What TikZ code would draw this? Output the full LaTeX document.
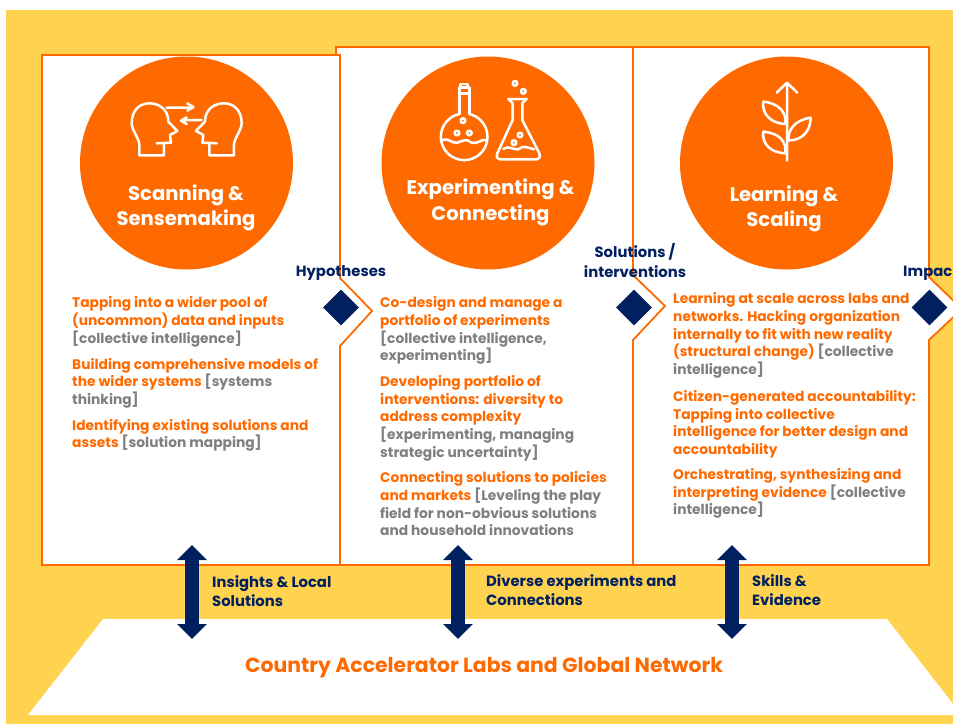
\documentclass[tikz,border=0pt]{standalone}
\usepackage{fontspec}
\setmainfont{Poppins}
\usetikzlibrary{shapes.geometric, positioning, arrows.meta}
\definecolor{bgyellow}{HTML}{FFD350}
\definecolor{undporange}{HTML}{FF6A00}
\definecolor{undpnavy}{HTML}{002060}
\definecolor{notegray}{HTML}{7F7F7F}
\newcommand{\nt}[1]{\textcolor{notegray}{#1}}
\tikzstyle{panel} = [draw=undporange, line width=1.8pt, fill=white, miter limit=3]
\tikzstyle{hub} = [circle, fill=undporange, minimum size=213pt, inner sep=0pt]
\tikzstyle{hubtitle} = [text=white, align=center, inner sep=0pt,
        font=\bfseries\fontsize{19.6}{25.5}\selectfont]
\tikzstyle{para} = [text=undporange, align=left, inner sep=0pt, anchor=north west,
        font=\bfseries\fontsize{13.8}{17.6}\selectfont,
        execute at begin node=\strut, execute at end node=\strut]
\tikzstyle{flow} = [text=undpnavy, align=left, inner sep=0pt,
        font=\bfseries\fontsize{14.8}{19.3}\selectfont]
\tikzstyle{gate} = [diamond, fill=undpnavy, minimum size=36pt, inner sep=0pt]
\tikzset{
    link/.style={draw=undpnavy, line width=14pt,
        {Triangle[width=29pt,length=15pt]}-{Triangle[width=29pt,length=15pt]}},
    icon/.style={draw=white, line width=2.5pt, line join=round, line cap=round}
}

\begin{document}
\begin{tikzpicture}[x=1pt,y=-1pt]
    \useasboundingbox (0,0) rectangle (953,724);
    \clip (0,0) rectangle (953,724);
    \fill[bgyellow] (6,10) rectangle (953,724);

    % three panels, drawn from right to left so each tip lies on the next
    \path[panel] (633,47) -- (929,47) -- (929,277) -- (962,309) -- (929,340) -- (929,565) -- (633,565);
    \path[panel] (336,55) -- (336,47) -- (633,47) -- (633,275) -- (665,306) -- (633,340) -- (633,565) -- (340,565);
    \path[panel] (42,55) -- (340,55) -- (340,278) -- (372,311) -- (340,346) -- (340,565) -- (42,565) -- cycle;

    \fill[white] (103,619) -- (887,619) -- (953,704) -- (953,715) -- (28,715) -- cycle;
    \node [text=undporange, inner sep=0pt, font=\bfseries\fontsize{20.4}{24}\selectfont] (labs) at (484,668)
        {Country Accelerator Labs and Global Network};

    \node [hub] (scan) at (186.5,163) {};
    \node [hub] (expt) at (488,163) {};
    \node [hub] (scale) at (786.5,163) {};
    \node [hubtitle] (scanT) at (186,208) {Scanning \&\\Sensemaking};
    \node [hubtitle] (exptT) at (490.5,202.5) {Experimenting \&\\Connecting};
    \node [hubtitle] (scaleT) at (784,209) {Learning \&\\Scaling};

    % heads
    \begin{scope}[shift={(100,80)}, x=.3333pt, y=-.3333pt]
        \draw[icon] (170,190) -- (213,188) -- (210,165) -- (232,153) -- (205,125)
            .. controls (205,90) and (180,70) .. (148,70)
            .. controls (115,70) and (95,95) .. (95,130)
            .. controls (95,150) and (118,175) .. (118,195) -- (118,226) -- (192,226) -- (192,190);
        \draw[icon] (350,190) -- (307,188) -- (310,165) -- (288,153) -- (315,125)
            .. controls (315,90) and (340,70) .. (372,70)
            .. controls (405,70) and (425,95) .. (425,130)
            .. controls (425,150) and (402,175) .. (402,195) -- (402,226) -- (328,226) -- (328,190);
        \draw[icon] (200,83) -- (280,83) (262,70) -- (280,81) -- (262,92);
        \draw[icon] (305,120) -- (245,120) (260,112) -- (243,122) -- (260,132);
    \end{scope}

    % flasks
    \begin{scope}[shift={(420,70)}, x=.3333pt, y=-.3333pt]
        \draw[icon] (118,132) -- (118,53) -- (148,53) -- (148,132);
        \draw[icon] (122,53) -- (122,42) -- (142,42) -- (142,53);
        \draw[icon] (118,70) -- (148,70);
        \draw[icon] (118,132) arc[start angle=258, end angle=-77, radius=70];
        \draw[icon] (65,212) .. controls (85,200) and (95,222) .. (112,218)
            .. controls (130,212) and (140,205) .. (155,218) .. controls (170,225) and (185,205) .. (200,210);
        \foreach \cx/\cy in {129/152, 111/189, 148/189, 285/40, 310/64, 300/195, 282/218}
            \draw[icon] (\cx,\cy) circle[radius=7];
        \draw[icon] (265,87) -- (320,87) -- (307,100) -- (307,150) -- (358,250)
            .. controls (362,262) and (358,268) .. (350,268) -- (240,268)
            .. controls (232,268) and (228,262) .. (232,250) -- (278,150) -- (278,100) -- cycle;
        \draw[icon] (250,237) .. controls (265,225) and (280,240) .. (295,238)
            .. controls (310,225) and (320,232) .. (342,238);
    \end{scope}

    % plant
    \begin{scope}[shift={(740,70)}, x=.3333pt, y=-.3333pt]
        \draw[icon] (141,272) -- (141,40) (110,68) -- (141,38) -- (172,68);
        \draw[icon] (136,162) .. controls (140,130) and (120,100) .. (70,95)
            .. controls (65,130) and (90,160) .. (136,162);
        \draw[icon] (146,212) .. controls (142,180) and (165,150) .. (212,143)
            .. controls (212,180) and (190,210) .. (146,212);
        \draw[icon] (136,250) .. controls (140,215) and (120,190) .. (70,185)
            .. controls (65,220) and (90,248) .. (136,250);
    \end{scope}

    \node [para] (p1) at (72,296.7) {Tapping into a wider pool of\\(uncommon) data and inputs\\\nt{[collective intelligence]}};
    \node [para, below=9.2pt of p1.south west, anchor=north west] (p2) {Building comprehensive models of\\the wider systems \nt{[systems}\\\nt{thinking]}};
    \node [para, below=9.2pt of p2.south west, anchor=north west] (p3) {Identifying existing solutions and\\assets \nt{[solution mapping]}};

    \node [para] (q1) at (380,296.7) {Co-design and manage a\\portfolio of experiments\\\nt{[collective intelligence,}\\\nt{experimenting]}};
    \node [para, below=9.2pt of q1.south west, anchor=north west] (q2) {Developing portfolio of\\interventions: diversity to\\address complexity\\\nt{[experimenting, managing}\\\nt{strategic uncertainty]}};
    \node [para, below=9pt of q2.south west, anchor=north west] (q3) {Connecting solutions to policies\\and markets \nt{[Leveling the play}\\\nt{field for non-obvious solutions}\\\nt{and household innovations}};

    \node [para] (r1) at (673,292.7) {Learning at scale across labs and\\networks. Hacking organization\\internally to fit with new reality\\(structural change) \nt{[collective}\\\nt{intelligence]}};
    \node [para, below=10.5pt of r1.south west, anchor=north west] (r2) {Citizen-generated accountability:\\Tapping into collective\\intelligence for better design and\\accountability};
    \node [para, below=8.5pt of r2.south west, anchor=north west] (r3) {Orchestrating, synthesizing and\\interpreting evidence \nt{[collective}\\\nt{intelligence]}};

    \node [gate] (g1) at (341,307.5) {};
    \node [gate] (g2) at (634,307.5) {};
    \node [gate] (g3) at (929.5,307.5) {};
    \node [flow] (hyp) at (341,273) {Hypotheses};
    \node [flow, align=center] (sol) at (635,260.5) {Solutions /\\interventions};
    \node [flow, anchor=west] (imp) at (903,273) {Impac};

    \coordinate (a1) at (192,545);
    \coordinate (a2) at (192,639);
    \coordinate (b1) at (458,545);
    \coordinate (b2) at (458,639);
    \coordinate (c1) at (732,545);
    \coordinate (c2) at (732,639);
    \draw[link] (a1) -- (a2);
    \draw[link] (b1) -- (b2);
    \draw[link] (c1) -- (c2);

    \node [flow, anchor=west] (insight) at (212,591) {Insights \& Local\\Solutions};
    \node [flow, anchor=west] (diverse) at (486,590) {Diverse experiments and\\Connections};
    \node [flow, anchor=west] (skill) at (752,590) {Skills \&\\Evidence};
\end{tikzpicture}
\end{document}
